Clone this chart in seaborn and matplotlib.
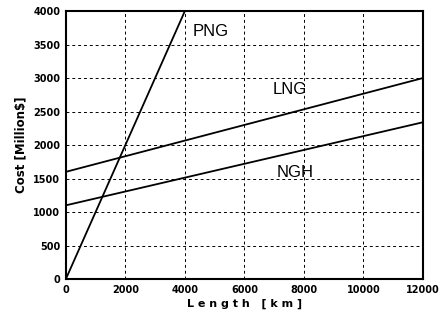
import numpy as np
import pandas as pd
import matplotlib
matplotlib.use('Agg')
import matplotlib.pyplot as plt
import seaborn as sns

# Cost vs pipeline/shipping length
length_km = [0, 12000]
png_cost = [0, 12000]
lng_cost = [1600, 3000]
ngh_cost = [1100, 2340]
series = ['PNG', 'LNG', 'NGH']

label_x = [4250, 6950, 7100]
label_y = [3700, 2830, 1590]

sns.set_style("ticks")
plt.rcParams['font.family'] = ['Liberation Sans', 'DejaVu Sans']
plt.rcParams['text.color'] = 'black'
plt.rcParams['axes.labelcolor'] = 'black'
plt.rcParams['xtick.color'] = 'black'
plt.rcParams['ytick.color'] = 'black'

df = pd.concat([
    pd.DataFrame({'length': length_km, 'cost': png_cost, 'kind': 'PNG'}),
    pd.DataFrame({'length': length_km, 'cost': lng_cost, 'kind': 'LNG'}),
    pd.DataFrame({'length': length_km, 'cost': ngh_cost, 'kind': 'NGH'}),
])

fig = plt.figure(figsize=(4.48, 3.16), dpi=100)
ax = fig.add_axes([0.147, 0.117, 0.797, 0.848])

sns.lineplot(data=df, x='length', y='cost', units='kind', estimator=None,
             color='black', linewidth=1.3, ax=ax, legend=False)

ax.set_xlim(0, 12000)
ax.set_ylim(0, 4000)
ax.set_xticks(np.arange(0, 12001, 2000))
ax.set_yticks(np.arange(0, 4001, 500))
ax.grid(True, color='black', linestyle=(0, (3, 3)), linewidth=0.7)
ax.tick_params(length=0, pad=4)
for lbl in ax.get_xticklabels() + ax.get_yticklabels():
    lbl.set_family('DejaVu Sans')
    lbl.set_fontweight('bold')
    lbl.set_fontsize(7)
for s in ax.spines.values():
    s.set_linewidth(1.5)
    s.set_color('black')

ax.set_xlabel('L e n g t h   [ k m ]', fontsize=8, fontweight='bold', labelpad=3,
              family='DejaVu Sans')
ax.set_ylabel('Cost [Million$]', fontsize=8.5, fontweight='bold', labelpad=4,
              family='DejaVu Sans')

for name, x, y in zip(series, label_x, label_y):
    ax.text(x, y, name, fontsize=12, va='center', ha='left', color='black')

fig.savefig('out.png', dpi=100)
